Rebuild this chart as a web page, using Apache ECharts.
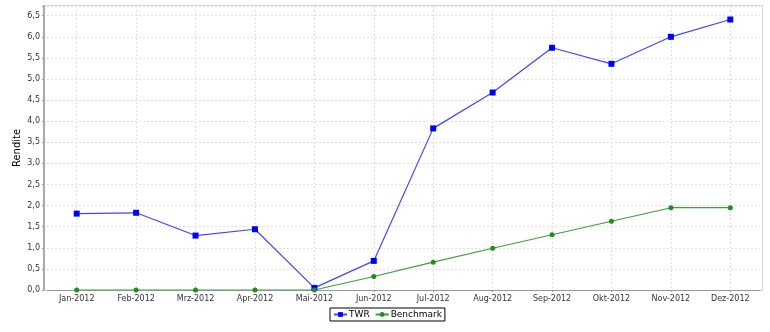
<!DOCTYPE html>
<html><head><meta charset="utf-8">
<script src="https://cdn.jsdelivr.net/npm/echarts@6/dist/echarts.min.js"></script>
<style>html,body{margin:0;padding:0;background:#fff}#c{width:770px;height:332px}</style>
</head><body><div id="c"></div>
<script>
const categories = ['Jan-2012','Feb-2012','Mrz-2012','Apr-2012','Mai-2012','Jun-2012','Jul-2012','Aug-2012','Sep-2012','Okt-2012','Nov-2012','Dez-2012'];
const twr = [1.81, 1.83, 1.29, 1.44, 0.05, 0.69, 3.83, 4.68, 5.74, 5.36, 6.00, 6.41];
const benchmark = [0, 0, 0, 0, 0, 0.32, 0.66, 0.99, 1.31, 1.63, 1.95, 1.95];
const yTicks = [0,0.5,1,1.5,2,2.5,3,3.5,4,4.5,5,5.5,6,6.5];

const font = 'DejaVu Sans';
const chart = echarts.init(document.getElementById('c'));
chart.setOption({
  animation: false,
  graphic: [{
    type: 'rect', z: 0, silent: true,
    shape: {x: 44.5, y: 5.5, width: 718, height: 285},
    style: {fill: 'none', stroke: '#d8d8d8', lineWidth: 1}
  }],
  grid: {left: 47, right: 10, top: 6, bottom: 42},
  legend: {
    left: 330, top: 308, itemGap: 5,
    padding: [2, 3, 2, 3],
    borderColor: '#000', borderWidth: 1, borderRadius: 0,
    itemWidth: 13, itemHeight: 6,
    textStyle: {fontFamily: font, fontSize: 9, color: '#000', padding: [0, 0, 0, -3]},
    data: ['TWR', 'Benchmark']
  },
  xAxis: {
    type: 'category', data: categories, boundaryGap: true,
    axisLine: {lineStyle: {color: '#999', width: 1}},
    axisTick: {show: true, alignWithLabel: true, length: 2, lineStyle: {color: '#999'}},
    axisLabel: {fontFamily: font, fontSize: 8, color: '#333', margin: 5, interval: 0},
    splitLine: {show: true, alignWithLabel: true, lineStyle: {color: '#e0e0e0', type: [2, 2]}}
  },
  yAxis: {
    type: 'value', min: 0, max: 6.73, interval: 0.5, offset: 3,
    name: 'Rendite', nameLocation: 'middle', nameGap: 22, nameRotate: 90,
    nameMoveOverlap: false,
    nameTextStyle: {fontFamily: font, fontSize: 10, color: '#000'},
    axisLine: {show: true, lineStyle: {color: '#aaa', width: 2}},
    axisTick: {show: true, length: 2, lineStyle: {color: '#999'}},
    axisLabel: {fontFamily: font, fontSize: 8, color: '#333', margin: 4,
      formatter: v => yTicks.some(t => Math.abs(t - v) < 1e-6) ? v.toFixed(1).replace('.', ',') : ''},
    splitLine: {show: true, lineStyle: {color: '#e0e0e0', type: [2, 2]}}
  },
  series: [{
    name: 'TWR', type: 'line', data: twr,
    symbol: 'rect', symbolSize: 6,
    itemStyle: {color: '#0000ff'},
    lineStyle: {color: '#4444ff', width: 1.2}
  }, {
    name: 'Benchmark', type: 'line', data: benchmark,
    symbol: 'circle', symbolSize: 5,
    itemStyle: {color: '#1f8f1f'},
    lineStyle: {color: '#3e9e3e', width: 1.2}
  }]
});
</script></body></html>
